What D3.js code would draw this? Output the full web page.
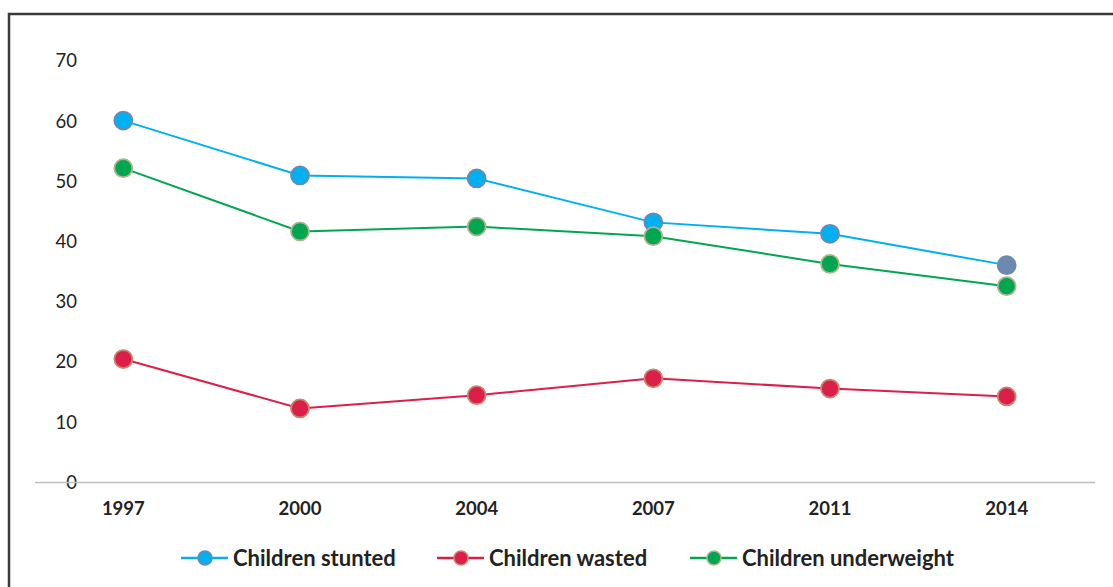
<!DOCTYPE html>
<html><head><meta charset="utf-8">
<script src="https://cdn.jsdelivr.net/npm/d3@7"></script>
<style>body{margin:0;background:#fff}svg{display:block}</style>
</head><body><svg id="c" width="1113" height="587"></svg>
<script>
const years = ["1997","2000","2004","2007","2011","2014"];
const stunted = [60.1, 51.0, 50.5, 43.2, 41.3, 36.1];
const wasted = [20.5, 12.3, 14.5, 17.3, 15.6, 14.3];
const underweight = [52.2, 41.7, 42.5, 40.9, 36.3, 32.6];
const yTicks = [0,10,20,30,40,50,60,70];
const seriesNames = ["Children stunted","Children wasted","Children underweight"];

const series = [
  {name: seriesNames[0], values: stunted, line: "#00b0f0", fill: "#00b0f0", stroke: "#6e89b0"},
  {name: seriesNames[1], values: wasted, line: "#dc1f4a", fill: "#dc1f4a", stroke: "#c8866a"},
  {name: seriesNames[2], values: underweight, line: "#00a650", fill: "#00a650", stroke: "#b3b28a"}
];

const svg = d3.select("#c");
const font = "Lato, 'Open Sans', sans-serif";

// frame
svg.append("path").attr("d","M9,590 V14 H1120").attr("fill","none").attr("stroke","#3a3a3a").attr("stroke-width",2.5);

const x = d3.scaleBand().domain(years).range([35,1095]).padding(0);
const y = d3.scaleLinear().domain([0,70]).range([482.5,61]);

// y labels
const yAxis = svg.append("g").attr("transform","translate(77,0)")
  .call(d3.axisLeft(y).tickValues(yTicks).tickSize(0).tickPadding(0));
yAxis.select(".domain").remove();
yAxis.selectAll("text").attr("font-family",font).attr("font-size",18.5).attr("fill","#222");

// x axis line
svg.append("line").attr("x1",x.range()[0]).attr("x2",x.range()[1]).attr("y1",y(0)).attr("y2",y(0))
  .attr("stroke","#bfbfbf").attr("stroke-width",1.5);

const xAxis = svg.append("g").attr("transform",`translate(0,${y(0)})`)
  .call(d3.axisBottom(x).tickSize(0).tickPadding(19));
xAxis.select(".domain").remove();
xAxis.selectAll("text").attr("font-family",font).attr("font-size",18.5).attr("font-weight","bold").attr("fill","#222");

const line = d3.line().x((d,i)=>x(years[i])+x.bandwidth()/2).y(d=>y(d));

series.forEach(s=>{
  svg.append("path").datum(s.values).attr("d",line).attr("fill","none").attr("stroke",s.line).attr("stroke-width",2);
});
series.forEach((s,si)=>{
  svg.append("g").selectAll("circle").data(s.values).join("circle")
    .attr("cx",(d,i)=>x(years[i])+x.bandwidth()/2).attr("cy",d=>y(d)).attr("r",9)
    .attr("fill",(d,i)=> (si===0 && i===years.length-1) ? s.stroke : s.fill)
    .attr("stroke",s.stroke).attr("stroke-width",1.8);
});

// legend
const legX = [181, 437, 690];
const legY = 558;
series.forEach((s,i)=>{
  const g = svg.append("g").attr("transform",`translate(${legX[i]},${legY})`);
  g.append("line").attr("x1",0).attr("x2",47).attr("stroke",s.line).attr("stroke-width",2.5);
  g.append("circle").attr("cx",24).attr("r",7).attr("fill",s.fill).attr("stroke",s.stroke).attr("stroke-width",1.5);
  g.append("text").attr("x",52).attr("dy","0.35em").text(s.name)
    .attr("font-family",font).attr("font-size",22).attr("font-weight","bold").attr("fill","#222");
});
</script></body></html>
